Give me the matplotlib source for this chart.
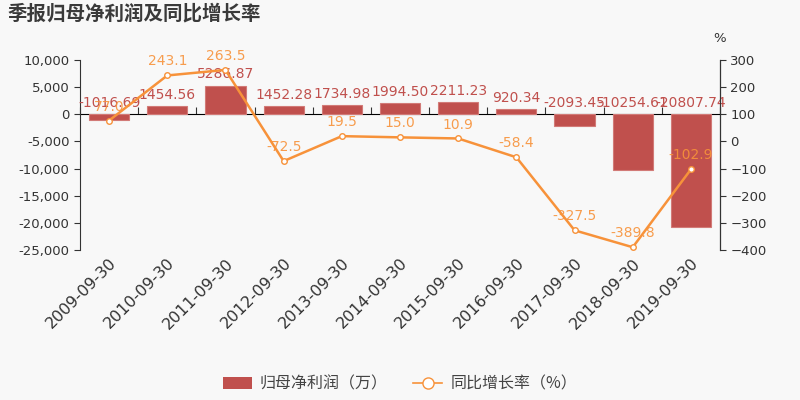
#!/usr/bin/env python
# -*- coding: utf-8 -*-

import numpy as np
import matplotlib
matplotlib.use("Agg")
import matplotlib.pyplot as plt
from matplotlib.lines import Line2D
from matplotlib.patches import Patch

plt.rcParams['font.family'] = ['DejaVu Sans', 'Noto Sans CJK SC']

# 報告期
dates = ['2009-09-30', '2010-09-30', '2011-09-30', '2012-09-30', '2013-09-30',
         '2014-09-30', '2015-09-30', '2016-09-30', '2017-09-30', '2018-09-30',
         '2019-09-30']
# 归母净利润（万）
profit = [-1016.69, 1454.56, 5286.87, 1452.28, 1734.98, 1994.50, 2211.23,
          920.34, -2093.45, -10254.61, -20807.74]
# 同比增长率（%）
growth = [77.0, 243.1, 263.5, -72.5, 19.5, 15.0, 10.9, -58.4, -327.5,
          -389.8, -102.9]

bar_color = '#c0504d'
line_color = '#f7923a'
bg = '#f8f8f8'
txt = '#333333'

fig = plt.figure(figsize=(8, 4), dpi=100, facecolor=bg)
ax = fig.add_axes([0.1, 0.375, 0.8, 0.475])
ax.set_facecolor(bg)
ax2 = ax.twinx()

x = np.arange(len(dates))

# 棒グラフ
ax.bar(x, profit, width=0.69, color=bar_color, edgecolor='#d27a77',
       linewidth=0.8, zorder=2)
for xi, v in zip(x, profit):
    ax.annotate('%.2f' % v, (xi, max(v, 0)), xytext=(0, 3),
                textcoords='offset points', ha='center', va='bottom',
                fontsize=10, color=bar_color, zorder=5)

ax.set_xlim(-0.5, len(dates) - 0.5)
ax.set_ylim(-25000, 10000)
ax.set_yticks(np.arange(-25000, 10001, 5000))
ax.yaxis.set_major_formatter(matplotlib.ticker.FuncFormatter(lambda v, p: '{:,.0f}'.format(v)))
ax.tick_params(axis='y', colors=txt, labelsize=9.5, length=4)
ax.set_xticks(x)
ax.set_xticklabels(dates, rotation=45, ha='right', rotation_mode='anchor',
                   fontsize=11.5, color=txt)
ax.tick_params(axis='x', length=0, pad=4)
for s in ['top', 'bottom']:
    ax.spines[s].set_visible(False)
ax.spines['left'].set_color(txt)

# ゼロの軸線
zero_pos = 25000.0 / 35000.0
sec = ax.secondary_xaxis(zero_pos)
sec.set_xticks(np.arange(-0.5, len(dates), 1.0))
sec.set_xticklabels([])
sec.tick_params(direction='out', length=5, color=txt)
sec.spines['bottom'].set_color(txt)

# 折れ線
ax2.plot(x, growth, color=line_color, lw=1.8, marker='o', ms=4,
         mfc='white', mec=line_color, mew=1, zorder=4)
for xi, v in zip(x, growth):
    ax2.annotate('%.1f' % v, (xi, v), xytext=(0, 5),
                 textcoords='offset points', ha='center', va='bottom',
                 fontsize=10, color=line_color, alpha=0.9)
ax2.set_ylim(-400, 300)
ax2.set_yticks(np.arange(-400, 301, 100))
ax2.tick_params(axis='y', colors=txt, labelsize=9.5, length=4)
for s in ['top', 'bottom', 'left']:
    ax2.spines[s].set_visible(False)
ax2.spines['right'].set_color(txt)

fig.text(0.9, 0.905, '%', ha='center', va='center', fontsize=9.5, color=txt)
fig.text(0.01, 0.965, '季报归母净利润及同比增长率', ha='left', va='center',
         fontsize=14, fontweight='bold', color='#3a3a3a',
         family=['Noto Sans CJK SC', 'DejaVu Sans'])

handles = [Patch(facecolor=bar_color, label='归母净利润（万）'),
           Line2D([0], [0], color=line_color, marker='o', mfc='white',
                  mec=line_color, ms=8, lw=1.2, label='同比增长率（%）')]
fig.legend(handles=handles, loc='center', bbox_to_anchor=(0.5, 0.04), ncol=2,
           frameon=False, handlelength=1.8, handletextpad=0.5, columnspacing=1.6,
           prop={'family': ['Noto Sans CJK SC', 'DejaVu Sans'], 'size': 11.5},
           labelcolor='#444444')

fig.savefig('out.png', dpi=100, facecolor=bg)
